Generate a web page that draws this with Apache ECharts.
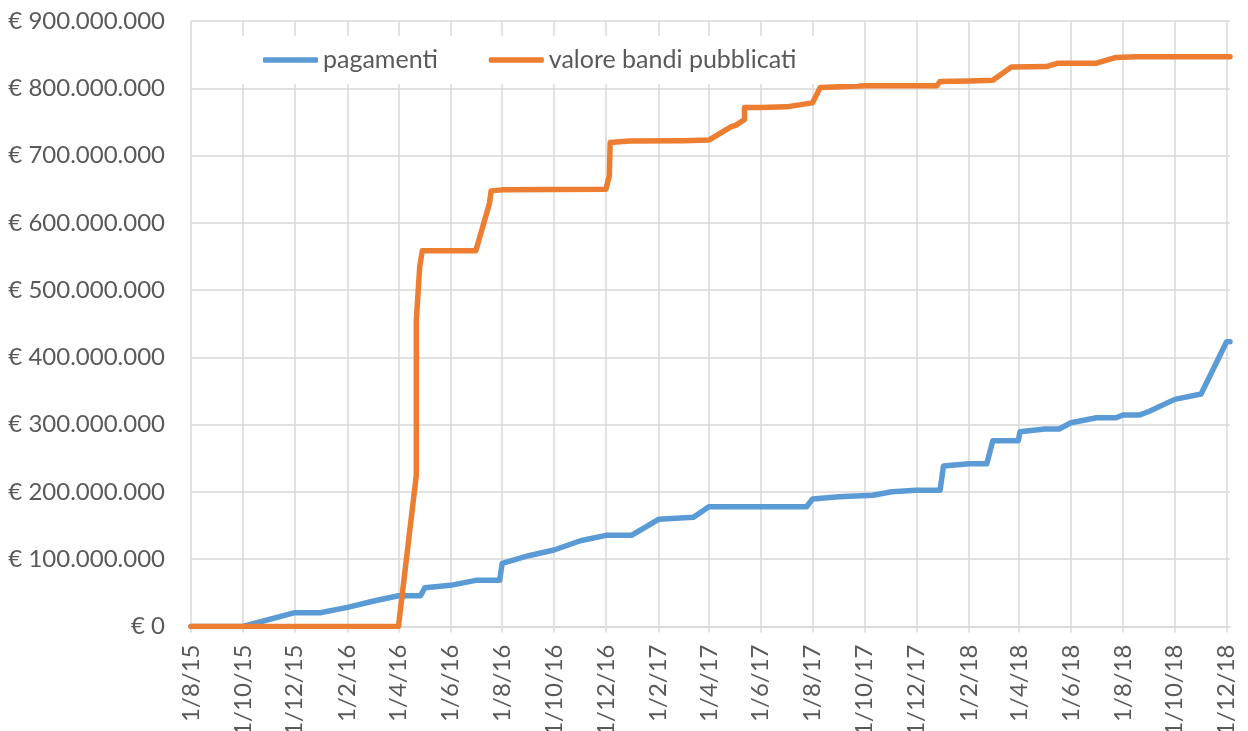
<!DOCTYPE html>
<html>
<head>
<meta charset="utf-8">
<script src="https://cdn.jsdelivr.net/npm/echarts@6/dist/echarts.min.js"></script>
<style>
html,body{margin:0;padding:0;background:#fff;}
#chart{width:1248px;height:731px;}
</style>
</head>
<body>
<div id="chart"></div>
<script>
// ---- DATA ----
const seriesNames = ['pagamenti', 'valore bandi pubblicati'];

const pagamentiDates = [
  '2015-08-01','2015-10-01','2015-12-01','2015-12-31','2016-02-01','2016-03-03','2016-04-01',
  '2016-04-27','2016-05-02','2016-06-01','2016-07-01','2016-07-29','2016-08-01','2016-09-01',
  '2016-10-01','2016-11-01','2016-12-01','2016-12-31','2017-02-01','2017-03-14','2017-04-01',
  '2017-07-25','2017-08-01','2017-09-01','2017-10-11','2017-11-02','2017-12-01','2017-12-29',
  '2018-01-02','2018-02-01','2018-02-22','2018-03-01','2018-03-31','2018-04-02','2018-05-01',
  '2018-05-18','2018-06-01','2018-07-01','2018-07-24','2018-08-01','2018-08-20','2018-08-31',
  '2018-10-01','2018-11-01','2018-12-01','2018-12-05'
];
const pagamentiValues = [
  0, 0, 20500000, 20500000, 28500000, 37900000, 45800000,
  45800000, 57700000, 61200000, 68600000, 68600000, 93900000, 105200000,
  113700000, 127500000, 135500000, 135500000, 159300000, 162300000, 178000000,
  178000000, 189500000, 192900000, 195000000, 200300000, 202400000, 202400000,
  238500000, 241900000, 241900000, 276100000, 276100000, 289500000, 293500000,
  293500000, 302800000, 310300000, 310300000, 314300000, 314300000, 319200000,
  337600000, 345500000, 423200000, 423200000
];

const bandiDates = [
  '2015-08-01','2016-04-01','2016-04-22','2016-04-22','2016-04-26','2016-04-29','2016-07-01',
  '2016-07-17','2016-07-19','2016-08-01','2016-12-01','2016-12-05','2016-12-06','2016-12-29',
  '2017-03-02','2017-04-01','2017-04-27','2017-05-03','2017-05-13','2017-05-13','2017-06-01',
  '2017-07-01','2017-08-01','2017-08-10','2017-10-04','2017-12-25','2017-12-29','2018-02-02',
  '2018-03-01','2018-03-23','2018-05-03','2018-05-17','2018-07-01','2018-07-23','2018-08-17',
  '2018-12-05'
];
const bandiValues = [
  0, 0, 225000000, 455000000, 534600000, 558400000, 558400000,
  628800000, 647500000, 649000000, 650000000, 670000000, 719500000, 721500000,
  722000000, 723000000, 742700000, 745200000, 753600000, 771500000, 771500000,
  772400000, 778300000, 801200000, 803600000, 803600000, 810000000, 811000000,
  812000000, 831800000, 832300000, 837300000, 837300000, 845700000, 846700000,
  846700000
];

const xTickDates = [
  '2015-08-01','2015-10-01','2015-12-01','2016-02-01','2016-04-01','2016-06-01','2016-08-01',
  '2016-10-01','2016-12-01','2017-02-01','2017-04-01','2017-06-01','2017-08-01','2017-10-01',
  '2017-12-01','2018-02-01','2018-04-01','2018-06-01','2018-08-01','2018-10-01','2018-12-01'
];
const xMinDate = '2015-08-01';
const xMaxDate = '2018-12-05';
const yMin = 0, yMax = 900000000, yStep = 100000000;

// ---- HELPERS ----
function ts(s){ const p = s.split('-').map(Number); return Date.UTC(p[0], p[1]-1, p[2]); }
function pairs(dates, values){ return dates.map((d,i)=>[ts(d), values[i]]); }
function euro(v){ return v === 0 ? '€ 0' : '€ ' + String(v).replace(/\B(?=(\d{3})+(?!\d))/g, '.'); }
function dmy(v){ const d = new Date(v); return d.getUTCDate() + '/' + (d.getUTCMonth()+1) + '/' + String(d.getUTCFullYear()).slice(2); }

const FONT = 'Lato';
const TXT = '#595959';
const GRID = '#d9d9d9';
const tickTs = xTickDates.map(ts);

const chart = echarts.init(document.getElementById('chart'), null, {renderer:'canvas'});
chart.setOption({
  animation: false,
  backgroundColor: '#ffffff',
  grid: { left: 191, right: 18, top: 21, bottom: 104.5, containLabel: false, outerBoundsMode: 'none' },
  legend: {
    data: seriesNames,
    left: 200, top: 36,
    padding: [11.5, 62, 11.5, 63],
    backgroundColor: '#ffffff',
    icon: 'roundRect',
    itemWidth: 55, itemHeight: 5.5, itemGap: 51,
    textStyle: { fontFamily: FONT, fontSize: 25, color: TXT }
  },
  xAxis: {
    type: 'value',
    min: ts(xMinDate), max: ts(xMaxDate),
    axisLine: { show: true, lineStyle: { color: GRID, width: 1.5 } },
    axisTick: { show: true, length: 6, lineStyle: { color: GRID, width: 1.5 }, customValues: tickTs },
    splitLine: { show: true, lineStyle: { color: GRID, width: 1.5 } },
    axisLabel: {
      customValues: tickTs,
      rotate: 90, margin: 18,
      fontFamily: FONT, fontSize: 24, color: TXT,
      formatter: dmy
    }
  },
  yAxis: {
    type: 'value', min: yMin, max: yMax, interval: yStep,
    axisLine: { show: false }, axisTick: { show: false },
    splitLine: { show: true, lineStyle: { color: GRID, width: 1.5 } },
    axisLabel: { margin: 26, fontFamily: FONT, fontSize: 24, color: TXT, formatter: euro }
  },
  series: [
    {
      name: seriesNames[0], type: 'line', data: pairs(pagamentiDates, pagamentiValues),
      showSymbol: false, symbol: 'none',
      color: '#5B9BD5',
      lineStyle: { color: '#5B9BD5', width: 5.5, cap: 'round', join: 'round' }
    },
    {
      name: seriesNames[1], type: 'line', data: pairs(bandiDates, bandiValues),
      showSymbol: false, symbol: 'none',
      color: '#ED7D31',
      lineStyle: { color: '#ED7D31', width: 5.5, cap: 'round', join: 'round' }
    }
  ]
});
</script>
</body>
</html>
